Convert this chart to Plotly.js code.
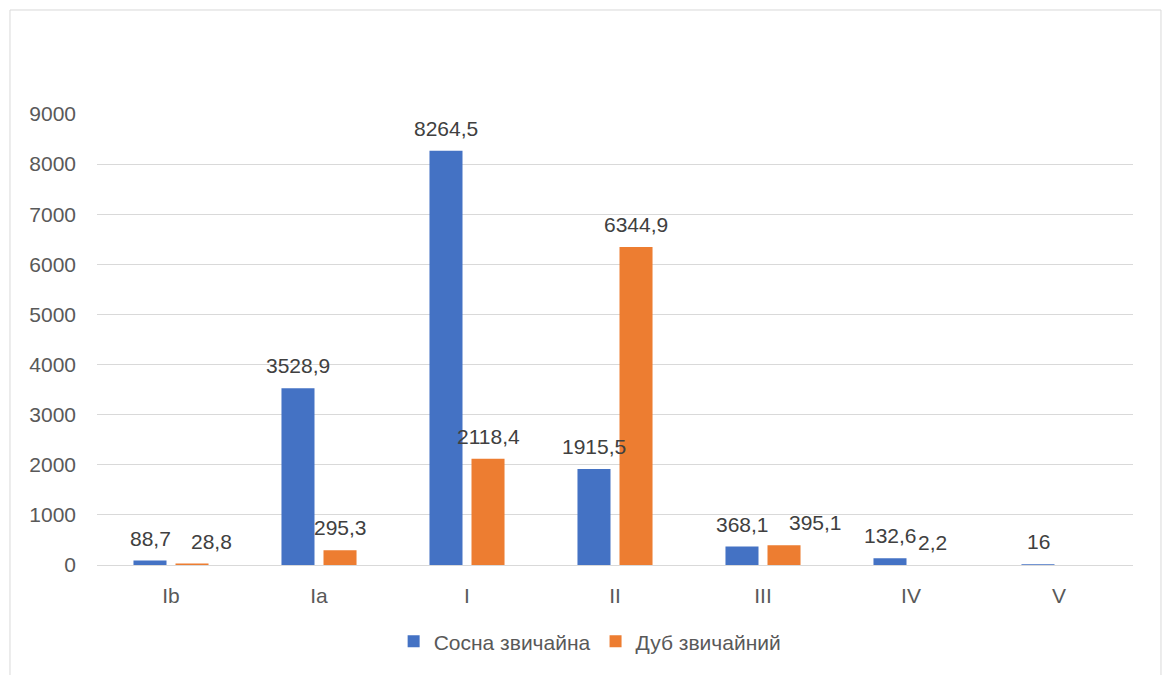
<!DOCTYPE html>
<html>
<head>
<meta charset="utf-8">
<script src="https://cdn.plot.ly/plotly-3.0.1.min.js"></script>
<style>
html,body{margin:0;padding:0;background:#fff;}
#chart{width:1166px;height:675px;}
</style>
</head>
<body>
<div id="chart"></div>
<script>
const categories = ["Ib", "Ia", "I", "II", "III", "IV", "V"];
const seriesNames = ["Сосна звичайна", "Дуб звичайний"];
const pine = [88.7, 3528.9, 8264.5, 1915.5, 368.1, 132.6, 16];
const oak = [28.8, 295.3, 2118.4, 6344.9, 395.1, 2.2, null];
const yTicks = [0, 1000, 2000, 3000, 4000, 5000, 6000, 7000, 8000, 9000];

const colors = ["#4472C4", "#ED7D31"];
const FONT = "Liberation Sans, Arial, sans-serif";

function fmt(v){ return String(v).replace('.', ','); }

const traces = [pine, oak].map((vals, i) => ({
  type: 'bar',
  name: seriesNames[i],
  x: categories,
  y: vals,
  marker: {color: colors[i]},
  hoverinfo: 'x+y'
}));

// labels nudged sideways in the reference to avoid overlapping
const nudge = {"1_0": 19, "1_4": 31};

const annotations = [];
[pine, oak].forEach((vals, i) => {
  vals.forEach((v, j) => {
    if (v === null) return;
    annotations.push({
      x: categories[j], y: v, xref: 'x', yref: 'y',
      text: fmt(v), showarrow: false,
      xanchor: 'center', yanchor: 'bottom',
      xshift: (i === 0 ? -21 : 21) + (nudge[i + "_" + j] || 0), yshift: 9,
      font: {family: FONT, size: 21, color: '#404040'}
    });
  });
});

const layout = {
  width: 1166, height: 675,
  margin: {l: 97, r: 33, t: 114, b: 110},
  paper_bgcolor: '#fff', plot_bgcolor: '#fff',
  barmode: 'group', bargap: 0.432, bargroupgap: 0.214,
  font: {family: FONT, size: 21, color: '#595959'},
  xaxis: {
    type: 'category', showgrid: false, zeroline: false,
    showline: true, linecolor: '#d9d9d9', linewidth: 1,
    ticks: '', ticklabelstandoff: 12,
    tickfont: {family: FONT, size: 21, color: '#595959'}
  },
  yaxis: {
    range: [0, 9000], tickvals: yTicks, ticktext: yTicks.map(String),
    showgrid: true, gridcolor: '#d9d9d9', gridwidth: 1,
    zeroline: false, showline: false, ticks: '',
    ticklabelstandoff: 20,
    tickfont: {family: FONT, size: 21, color: '#595959'}
  },
  showlegend: true,
  legend: {
    orientation: 'h', x: 0.476, xanchor: 'center', y: -0.17, yanchor: 'middle',
    font: {family: FONT, size: 21, color: '#595959'},
    itemwidth: 30, traceorder: 'normal'
  },
  annotations: annotations,
  shapes: [{
    type: 'rect', xref: 'paper', yref: 'paper',
    x0: -0.084, x1: 1.027, y0: -0.3, y1: 1.2306,
    line: {color: '#d9d9d9', width: 1}, fillcolor: 'rgba(0,0,0,0)', layer: 'below'
  }]
};

Plotly.newPlot('chart', traces, layout, {displayModeBar: false, staticPlot: true});
</script>
</body>
</html>
